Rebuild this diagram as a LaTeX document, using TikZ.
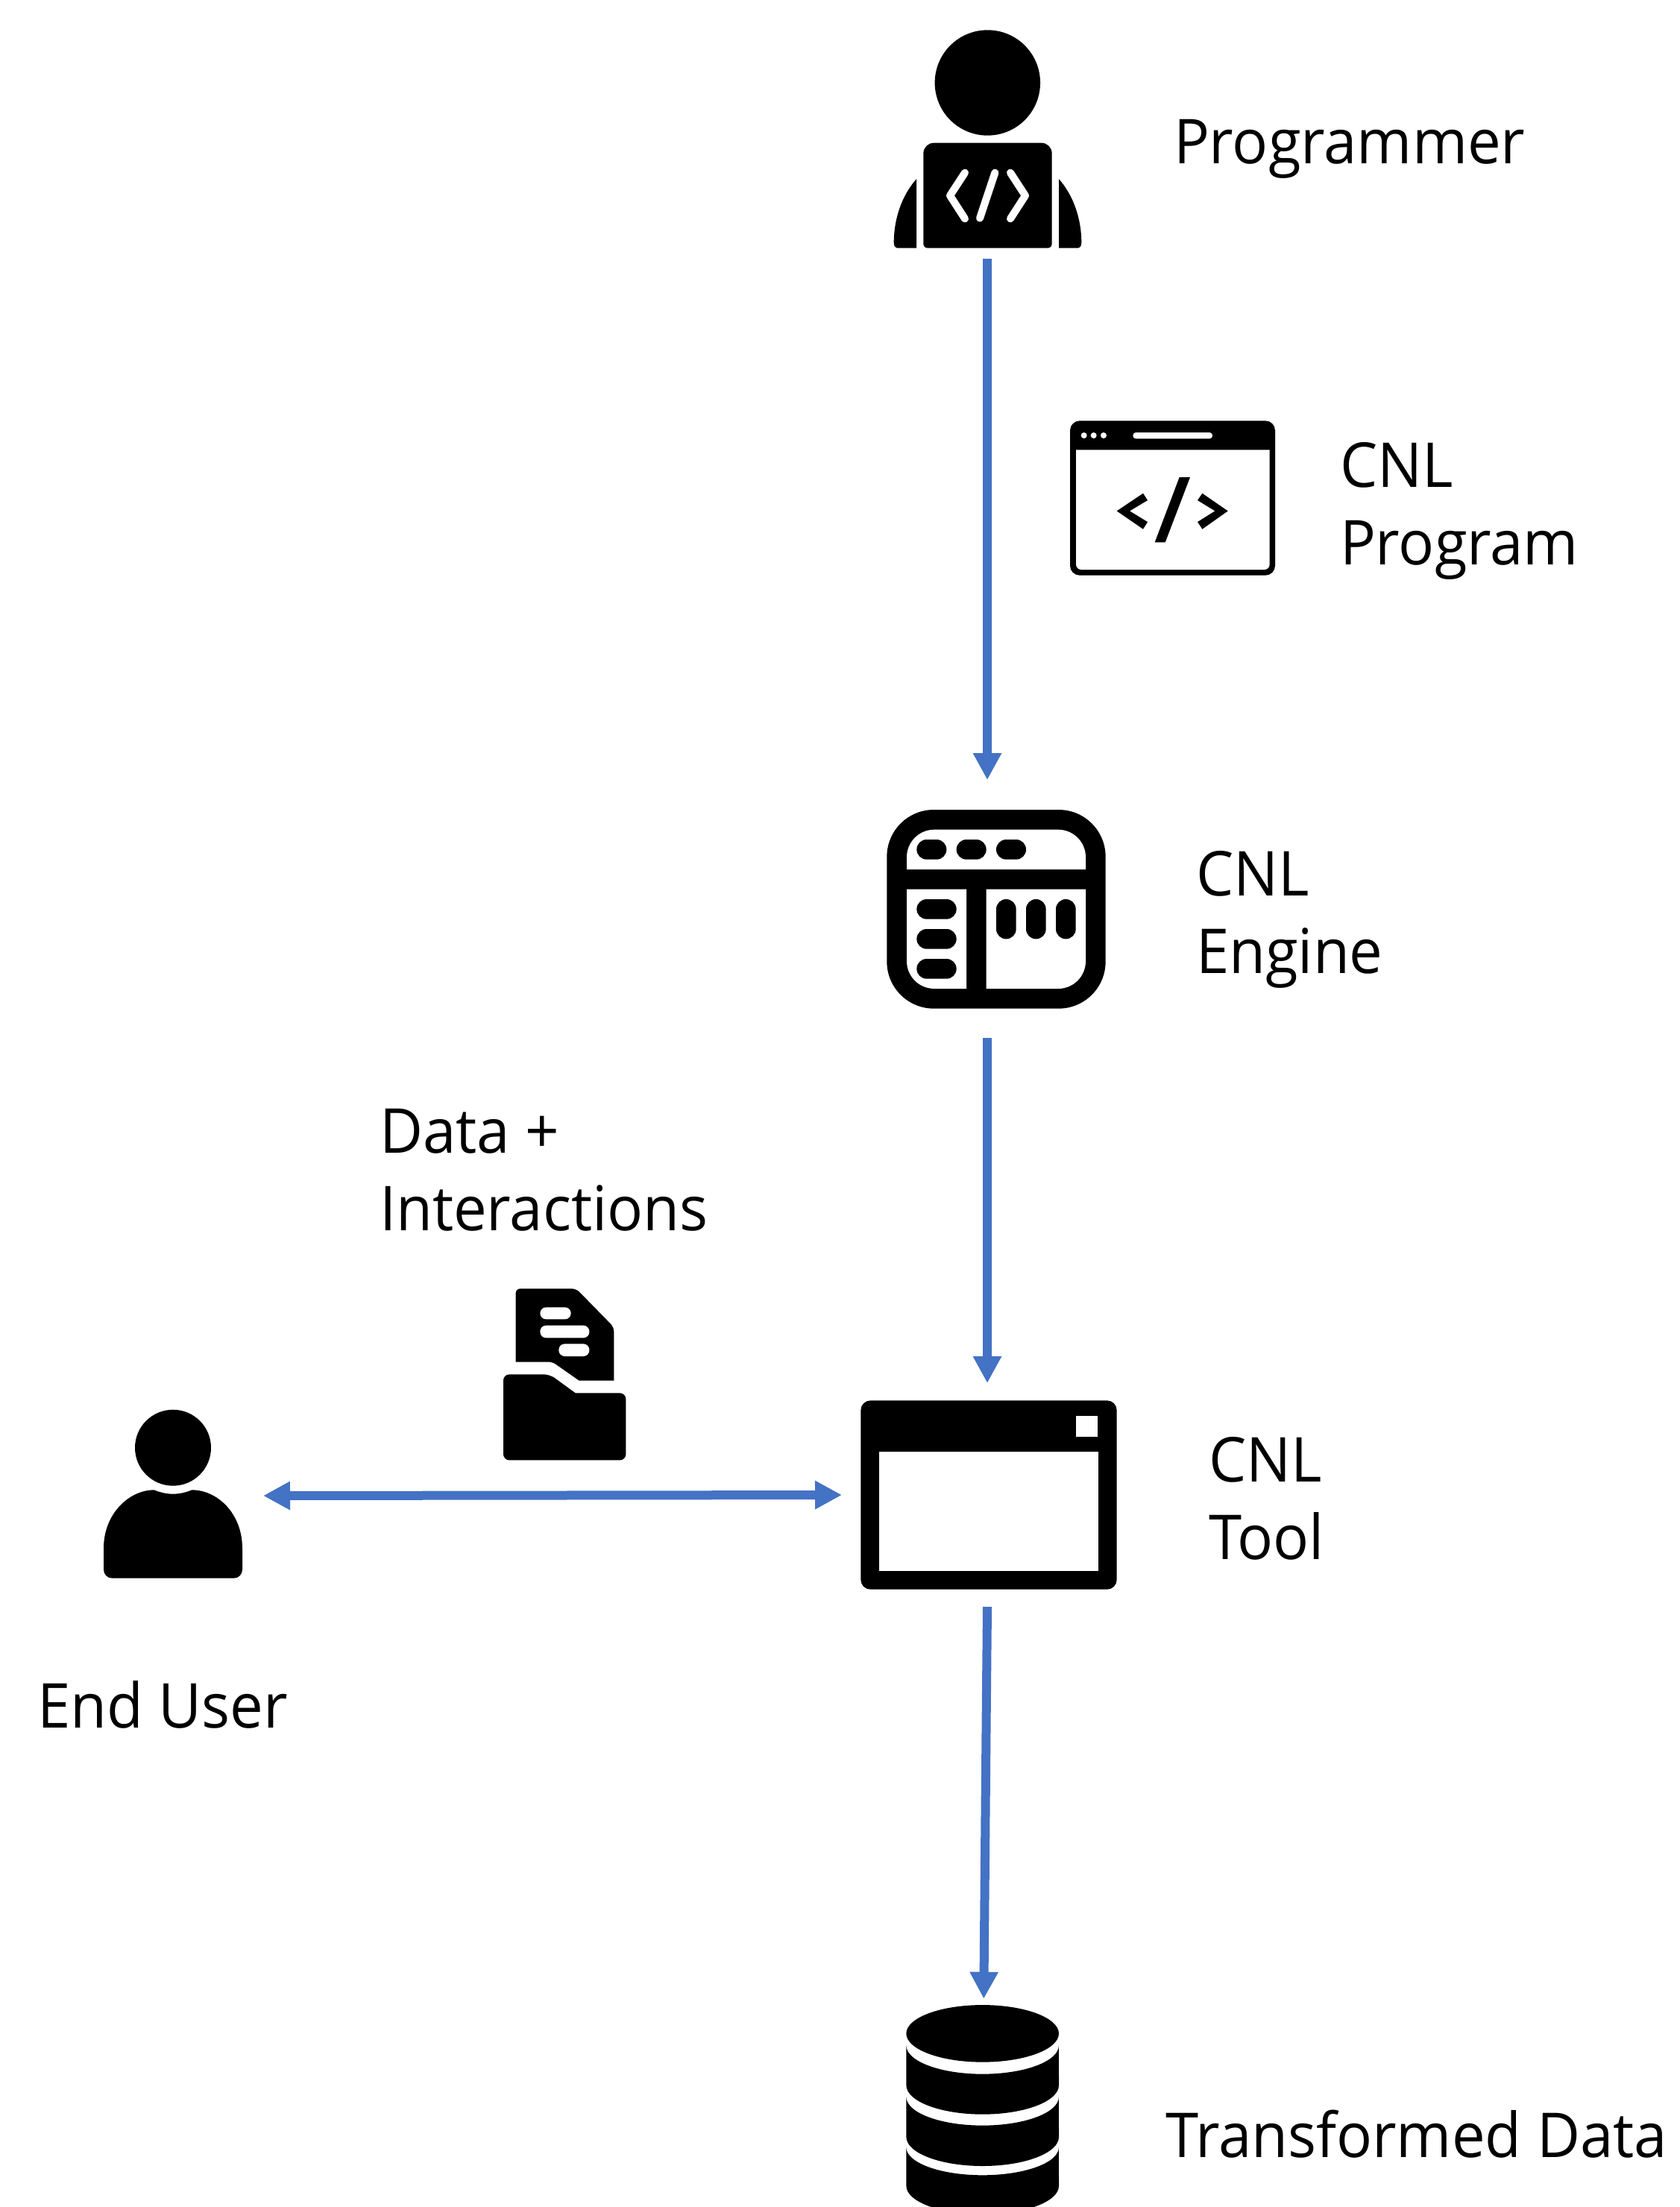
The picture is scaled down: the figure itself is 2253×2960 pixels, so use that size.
\documentclass[tikz,border=0pt]{standalone}
\usepackage{fontspec}
\setmainfont[FakeStretch=0.96]{Open Sans}
\usetikzlibrary{arrows.meta}
\definecolor{flowblue}{HTML}{4472C4}
\tikzset{
  iconbox/.style={rectangle,inner sep=0pt,outer sep=0pt,draw=none,fill=none},
  lbl/.style={anchor=base west,inner sep=0pt,outer sep=0pt,align=left,font=\fontsize{83}{104}\selectfont,text=black},
  flow/.style={draw=flowblue,line width=12pt,-{Triangle[length=36pt,width=36pt]}},
  flowboth/.style={draw=flowblue,line width=12pt,{Triangle[length=36pt,width=36pt]}-{Triangle[length=36pt,width=36pt]}},
  zm/.style={x=0.33333pt,y=-0.33333pt},
  codeline/.style={draw=white,line width=10pt,line cap=round,line join=round},
}
\begin{document}
\begin{tikzpicture}[x=1pt,y=-1pt]
\useasboundingbox (0,0) rectangle (2253,2960);
\clip (0,0) rectangle (2253,2960);
\fill[white] (0,0) rectangle (2253,2960);

% anchors for connectors
\node[iconbox,minimum width=260pt,minimum height=307pt] (programmer) at (1324,193.5) {};
\node[iconbox,minimum width=316pt,minimum height=346pt] (engine) at (1324,1219) {};
\node[iconbox,minimum width=390pt,minimum height=300pt] (tool) at (1324,2005) {};
\node[iconbox,minimum width=233pt,minimum height=270pt] (enduser) at (236.5,2006) {};
\node[iconbox,minimum width=205pt,minimum height=279.3pt] (store) at (1319.3,2820.35) {};

% programmer icon
\begin{scope}[shift={(1150pt,0pt)},zm]
  \fill (523,333) circle[radius=70.7pt];
  \fill (265,800) [rounded corners=14pt] -- (265,575) -- (782,575) [rounded corners=5pt] -- (782,998) -- (265,998) -- cycle;
  \fill (237,720) .. controls (180,785) and (147,875) .. (146,975) .. controls (146,990) and (152,998) .. (162,998) -- (237,998) -- cycle;
  \fill (810,720) .. controls (867,785) and (900,875) .. (901,975) .. controls (901,990) and (895,998) .. (885,998) -- (810,998) -- cycle;
  \draw[codeline] (432,695) -- (372,787) -- (432,880);
  \draw[codeline] (615,695) -- (675,787) -- (615,880);
  \draw[codeline] (553,695) -- (492,878);
\end{scope}

% program window icon
\begin{scope}[shift={(1400pt,-540pt)},zm]
  \fill[rounded corners=13pt] (105,73) rectangle (930,695);
  \fill[white] (129,190) [rounded corners=7pt] -- (129,672) -- (908,672) [sharp corners] -- (908,190) -- cycle;
  \foreach \cx in {161,200,240} \fill[white] (\cx,132) circle[radius=4pt];
  \fill[white,rounded corners=4pt] (358,120) rectangle (678,145);
  \fill (293,436) -- (399,365) -- (417,393) -- (345,436) -- (417,480) -- (399,509) -- cycle;
  \fill (740,436) -- (637,365) -- (618,393) -- (688,436) -- (618,480) -- (637,509) -- cycle;
  \fill (545,300) -- (588,300) -- (488,562) -- (446,562) -- cycle;
\end{scope}

% engine icon
\begin{scope}[shift={(1160pt,-1060pt)},zm]
  \fill[rounded corners=63pt] (88,78) rectangle (968,878);
  \fill[white] (168,318) [rounded corners=37pt] -- (168,158) -- (888,158) [sharp corners] -- (888,318) -- cycle;
  \fill[white] (408,398) -- (168,398) [rounded corners=37pt] -- (168,798) [sharp corners] -- (408,798) -- cycle;
  \fill[white] (488,398) -- (488,798) [rounded corners=37pt] -- (888,798) [sharp corners] -- (888,398) -- cycle;
  \foreach \a in {208,368,528} \fill[rounded corners=13.3pt] (\a,198) rectangle (\a+120,278);
  \foreach \b in {438,558,678} \fill[rounded corners=13.3pt] (208,\b) rectangle (368,\b+80);
  \foreach \a in {528,648,768} \fill[rounded corners=13.3pt] (\a,438) rectangle (\a+80,598);
\end{scope}

% folder icon
\begin{scope}[shift={(650pt,-1700pt)},zm]
  \fill (125,380) [rounded corners=6pt] -- (125,85) -- (368,85) -- (520,240) [sharp corners] -- (520,455) -- (380,455) -- (290,392) .. controls (280,385) and (272,380) .. (262,380) -- cycle;
  \fill[white,rounded corners=8pt] (223,160) rectangle (347,208);
  \fill[white,rounded corners=8pt] (223,233) rectangle (421,283);
  \fill[white,rounded corners=8pt] (298,307) rectangle (421,357);
  \fill (75,600) [rounded corners=8pt] -- (75,430) -- (262,430) [sharp corners] -- (365,505) [rounded corners=8pt] -- (568,505) -- (568,775) -- (75,775) -- cycle;
\end{scope}

% end user icon
\begin{scope}[shift={(100pt,-1860pt)},zm]
  \fill (396,245) circle[radius=51pt];
  \fill (117,650) .. controls (117,510) and (220,415) .. (320,415) .. controls (345,425) and (370,431) .. (396,431) .. controls (422,431) and (447,425) .. (472,415) .. controls (575,415) and (675,510) .. (675,650) -- (675,735) .. controls (675,755) and (660,770) .. (640,770) -- (152,770) .. controls (132,770) and (117,755) .. (117,735) -- cycle;
\end{scope}

% tool icon
\begin{scope}[shift={(1120pt,-1850pt)},zm]
  \fill[rounded corners=13pt] (103,85) rectangle (1133,845);
  \fill[white] (178,290) rectangle (1058,770);
  \fill[white] (970,146) rectangle (1057,230);
\end{scope}

% data store icon
\begin{scope}[shift={(1140pt,-2650pt)},zm]
  \fill (533,232) ellipse[x radius=102.3pt,y radius=38.3pt];
  \fill (226,280) arc[start angle=180,end angle=360,x radius=102.3pt,y radius=38.3pt] -- (840,440) arc[start angle=0,end angle=-180,x radius=102.3pt,y radius=39pt] -- cycle;
  \fill (226,487) arc[start angle=180,end angle=360,x radius=102.3pt,y radius=38.3pt] -- (840,648) arc[start angle=0,end angle=-180,x radius=102.3pt,y radius=39pt] -- cycle;
  \fill (226,690) arc[start angle=180,end angle=360,x radius=102.3pt,y radius=37.3pt] -- (840,845) arc[start angle=0,end angle=-180,x radius=102.3pt,y radius=38.3pt] -- cycle;
\end{scope}

% connectors
\draw[flow] (programmer.south) -- (engine.north);
\draw[flow] (engine.south) -- (tool.north);
\draw[flow] (tool.south) -- (store.north);
\draw[flowboth] (enduser.east) -- (tool.west);

% labels
\node[lbl] (lprog) at (1574,219) {Programmer};
\node[lbl] (lcnlp) at (1797,757) {CNL\\Program};
\node[lbl] (lcnle) at (1604,1305) {CNL\\Engine};
\node[lbl] (ldata) at (509,1650) {Data +\\Interactions};
\node[lbl] (lcnlt) at (1621,2091) {CNL\\Tool};
\node[lbl] (luser) at (50,2317) {End User};
\node[lbl] (ltrans) at (1563,2893) {Transformed Data};
\end{tikzpicture}
\end{document}
